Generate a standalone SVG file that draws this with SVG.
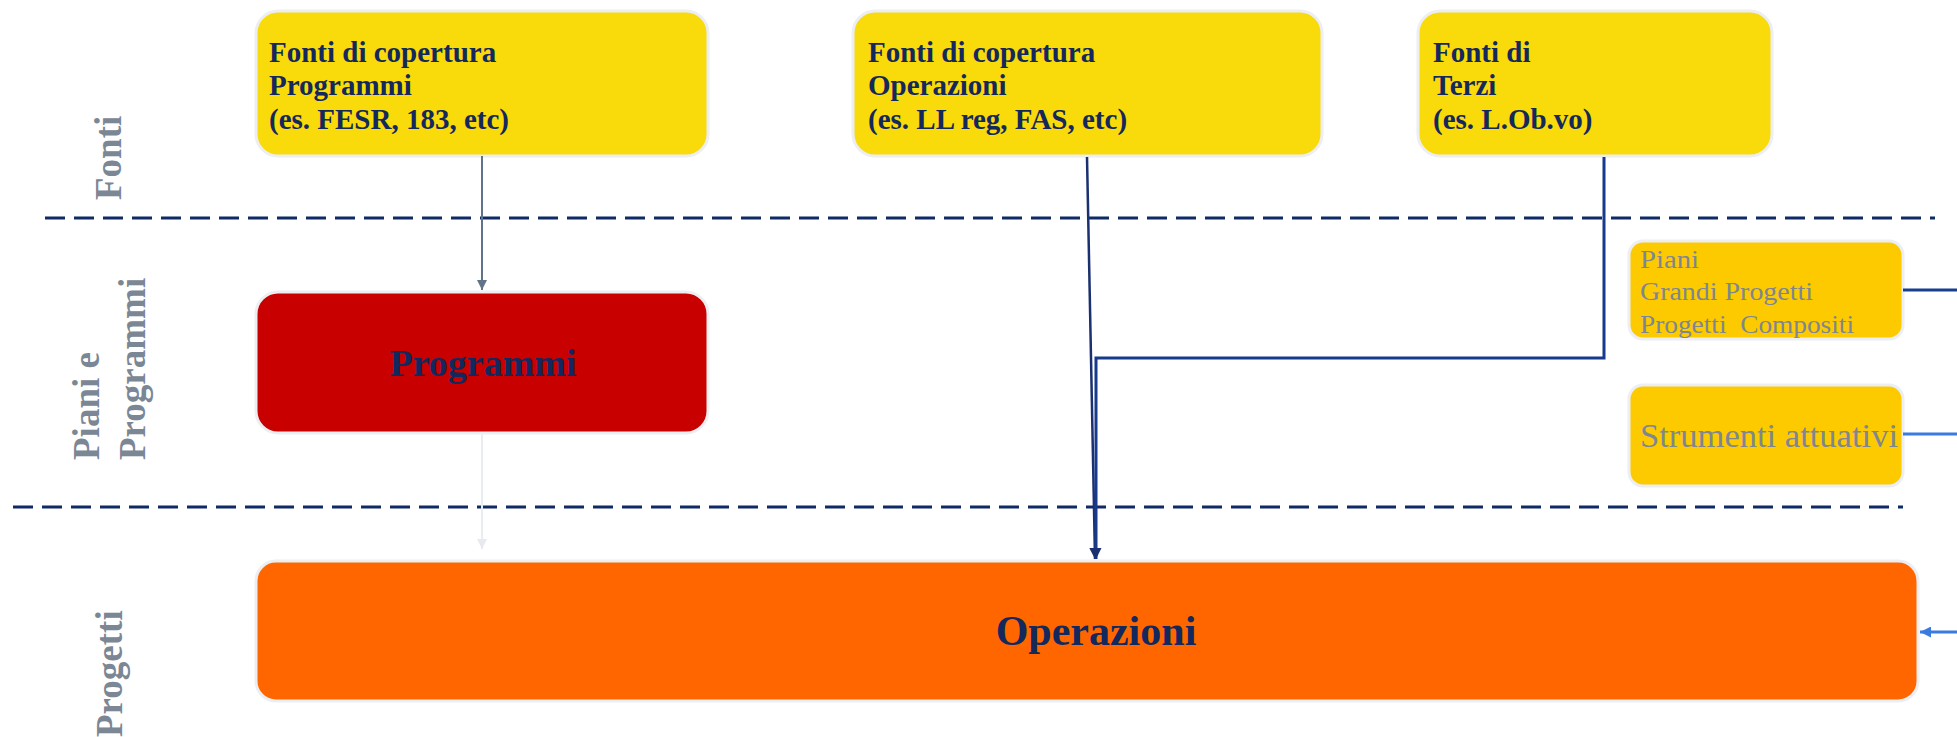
<svg xmlns="http://www.w3.org/2000/svg" width="1957" height="737" viewBox="0 0 1957 737">
<style>
.box{stroke:#eceef2;stroke-width:3}
.yel{fill:#f9da0a}
.gold{fill:#fdca00}
.t{font-family:"Liberation Serif","Times New Roman",serif;font-weight:bold;fill:#13285c}
.top{font-size:29px}
.lab{font-family:"Liberation Serif","Times New Roman",serif;font-weight:bold;font-size:37px;fill:#7b8794}
.g{font-family:"Liberation Serif","Times New Roman",serif;fill:#7e8692}
.dash{stroke:#0f2a66;stroke-width:3;stroke-dasharray:20 9;fill:none}
</style>
<defs>
<marker id="aGrey" viewBox="0 0 10 10" refX="10" refY="5" markerWidth="10" markerHeight="10" markerUnits="userSpaceOnUse" orient="auto"><path d="M0,0L10,5L0,10z" fill="#607489"/></marker>
<marker id="aFaint" viewBox="0 0 10 10" refX="10" refY="5" markerWidth="10" markerHeight="10" markerUnits="userSpaceOnUse" orient="auto"><path d="M0,0L10,5L0,10z" fill="#e6eaef"/></marker>
<marker id="aNavy" viewBox="0 0 10 10" refX="10" refY="5" markerWidth="11" markerHeight="11" markerUnits="userSpaceOnUse" orient="auto"><path d="M0,0L10,5L0,10z" fill="#1a3070"/></marker>
<marker id="aBlue" viewBox="0 0 10 10" refX="10" refY="5" markerWidth="11" markerHeight="11" markerUnits="userSpaceOnUse" orient="auto"><path d="M0,0L10,5L0,10z" fill="#3a7be0"/></marker>
</defs>
<rect width="1957" height="737" fill="#ffffff"/>

<g id="lanes">
<line class="dash" x1="45" y1="218" x2="1935" y2="218"/>
<line class="dash" x1="13" y1="507" x2="1903" y2="507"/>
<text class="lab" transform="translate(121,200) rotate(-90)">Fonti</text>
<text class="lab" transform="translate(99,460) rotate(-90)">Piani e</text>
<text class="lab" transform="translate(145,460) rotate(-90)">Programmi</text>
<text class="lab" transform="translate(122,737) rotate(-90)">Progetti</text>
</g>

<g id="fonti-programmi">
<rect class="box yel" x="256" y="11" width="452" height="145" rx="22"/>
<text class="t top" x="269" y="62">Fonti di copertura</text>
<text class="t top" x="269" y="95">Programmi</text>
<text class="t top" x="269" y="129">(es. FESR, 183, etc)</text>
</g>

<g id="fonti-operazioni">
<rect class="box yel" x="853" y="11" width="469" height="145" rx="22"/>
<text class="t top" x="868" y="62">Fonti di copertura</text>
<text class="t top" x="868" y="95">Operazioni</text>
<text class="t top" x="868" y="129">(es. LL reg, FAS, etc)</text>
</g>

<g id="fonti-terzi">
<rect class="box yel" x="1418" y="11" width="354" height="145" rx="22"/>
<text class="t top" x="1433" y="62">Fonti di</text>
<text class="t top" x="1433" y="95">Terzi</text>
<text class="t top" x="1433" y="129">(es. L.Ob.vo)</text>
</g>

<g id="programmi">
<rect class="box" fill="#c80000" x="256" y="292" width="452" height="141" rx="22"/>
<text class="t" x="483" y="376" font-size="38" text-anchor="middle">Programmi</text>
</g>

<g id="piani">
<rect class="box gold" x="1629" y="241" width="274" height="98" rx="14"/>
<text class="g" font-size="26" x="1640" y="268" textLength="59" lengthAdjust="spacingAndGlyphs">Piani</text>
<text class="g" font-size="26" x="1640" y="300" textLength="173" lengthAdjust="spacingAndGlyphs">Grandi Progetti</text>
<text class="g" font-size="26" x="1640" y="333" textLength="214" lengthAdjust="spacingAndGlyphs" xml:space="preserve">Progetti  Compositi</text>
</g>

<g id="strumenti">
<rect class="box gold" x="1629" y="385" width="274" height="101" rx="14"/>
<text class="g" font-size="34" x="1640" y="447" textLength="258" lengthAdjust="spacingAndGlyphs">Strumenti attuativi</text>
</g>

<g id="operazioni">
<rect class="box" fill="#ff6600" x="256" y="561" width="1662" height="140" rx="20"/>
<text class="t" x="1096" y="645" font-size="42" text-anchor="middle">Operazioni</text>
</g>

<g id="connectors" fill="none">
<line x1="482" y1="156" x2="482" y2="290" stroke="#607489" stroke-width="2" marker-end="url(#aGrey)"/>
<line x1="482" y1="434" x2="482" y2="549" stroke="#e9edf2" stroke-width="2" marker-end="url(#aFaint)"/>
<line x1="1087" y1="157" x2="1095" y2="559" stroke="#1a3070" stroke-width="2.5" marker-end="url(#aNavy)"/>
<polyline points="1604,157 1604,358 1096,358 1096,559" stroke="#173a8c" stroke-width="3" marker-end="url(#aNavy)"/>
<line x1="1903" y1="290" x2="1957" y2="290" stroke="#173f8f" stroke-width="3"/>
<line x1="1903" y1="434" x2="1957" y2="434" stroke="#3a7be0" stroke-width="3"/>
<line x1="1957" y1="632" x2="1920" y2="632" stroke="#3a7be0" stroke-width="3" marker-end="url(#aBlue)"/>
</g>
</svg>
